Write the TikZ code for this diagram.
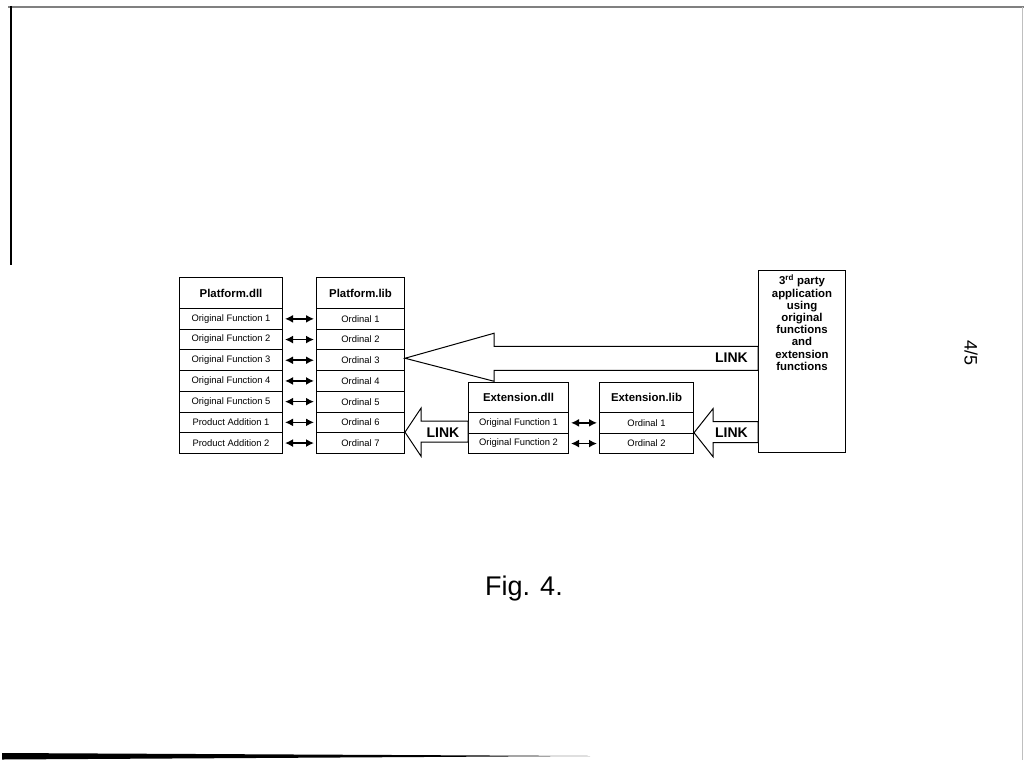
\documentclass[tikz,border=0pt]{standalone}
\usepackage{fontspec}
\setmainfont{Liberation Sans}
\usetikzlibrary{arrows.meta}

\tikzset{
  cell/.style={draw, line width=1pt, inner sep=0pt, anchor=north west,
    minimum height=20.7, font=\fontsize{9.4}{10}\selectfont},
  head/.style={cell, minimum height=31, font=\fontsize{11.4}{12}\selectfont\bfseries},
  dbl/.style={{Latex[length=8pt,width=8pt]}-{Latex[length=8pt,width=8pt]}, line width=1.6pt},
  blk/.style={draw, fill=white, line width=1pt, line join=miter},
  lnk/.style={font=\fontsize{14}{14}\selectfont\bfseries, inner sep=0pt}
}

\begin{document}
\begin{tikzpicture}[x=1pt,y=-1pt]
\useasboundingbox (0,0) rectangle (1024,760);
% edges of the scanned sheet
\draw[gray, line width=1.5pt] (8,7) -- (1024,7);
\draw[line width=2pt] (11,6) -- (11,265);
\draw[black!25, line width=1pt] (1022.5,7) -- (1022.5,760);
\fill (2,753) -- (590,756) -- (2,759.5) -- cycle;

\node[head, minimum width=103] (pd) at (179,277) {Platform.dll};
\node[head, minimum width=88] (pl) at (316,277) {Platform.lib};
\foreach \t [count=\i] in {Original Function 1, Original Function 2, Original Function 3,
    Original Function 4, Original Function 5, Product Addition 1, Product Addition 2} {
  \node[cell, minimum width=103] (pd\i) at (179,{308+20.7*(\i-1)}) {\t};
  \node[cell, minimum width=88] (pl\i) at (316,{308+20.7*(\i-1)}) {Ordinal \i};
  \draw[dbl] ([xshift=2pt]pd\i.east) -- ([xshift=-2pt]pl\i.west);
}

\node[head, minimum width=100, minimum height=30] (ed) at (468,382) {Extension.dll};
\node[head, minimum width=94, minimum height=30] (el) at (599,382) {Extension.lib};
\foreach \i in {1,2} {
  \node[cell, minimum width=100] (ed\i) at (468,{412+20.7*(\i-1)}) {Original Function \i};
  \node[cell, minimum width=94] (el\i) at (599,{412+20.7*(\i-1)}) {Ordinal \i};
  \draw[dbl] ([xshift=2pt]ed\i.east) -- ([xshift=-2pt]el\i.west);
}

\node[draw, line width=1pt, anchor=north west, minimum width=87, minimum height=182,
  inner sep=0pt] (app) at (758,270) {};
\node[anchor=north, align=center, font=\fontsize{11.4}{12.2}\selectfont\bfseries,
  inner sep=0pt] (apptxt) at ([yshift=-5pt]app.north)
  {3\textsuperscript{rd} party\\application\\using\\original\\functions\\and\\extension\\functions};

% LINK arrows
\draw[blk] ([yshift=2pt]pl3.east) -- ++(89,-25) -- ++(0,13) coordinate (b1)
  -- (b1 -| app.west) -- ++(0,24) coordinate (b2) -- (b2 -| b1) -- ++(0,11) -- cycle;
\node[lnk, anchor=east] (lk1) at (748,358) {LINK};

\draw[blk] (pl7.north east) -- ++(16,-24) -- ++(0,13) coordinate (c1)
  -- (c1 -| ed2.west) -- ++(0,21) coordinate (c2) -- (c2 -| c1) -- ++(0,14) -- cycle;
\node[lnk] (lk2) at (443,432.5) {LINK};

\draw[blk] (el2.north east) -- ++(19,-24) -- ++(0,13) coordinate (d1)
  -- (d1 -| app.west) -- ++(0,21) coordinate (d2) -- (d2 -| d1) -- ++(0,14) -- cycle;
\node[lnk, anchor=east] (lk3) at (748,432.5) {LINK};

\node[anchor=base, font=\fontsize{27}{30}\selectfont] (fig) at (524,595) {Fig. 4.};
\node[rotate=-90, font=\fontsize{18}{18}\selectfont] (pg) at (971,353) {4/5};
\end{tikzpicture}
\end{document}
